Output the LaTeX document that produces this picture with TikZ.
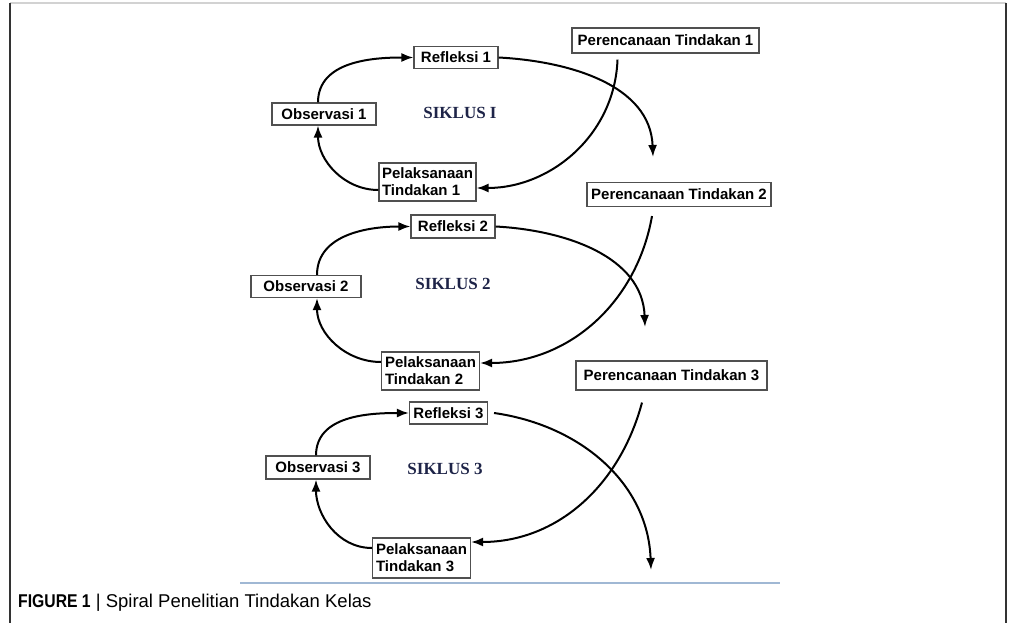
\documentclass[tikz,border=0pt]{standalone}
\usepackage{fontspec}
\setmainfont{Liberation Sans}
\newfontfamily\siklusfont{Liberation Serif}
\newfontfamily\capfont{Liberation Sans}
\newfontfamily\capboldfont[FakeStretch=0.85]{Liberation Sans}
\usetikzlibrary{arrows.meta}
\definecolor{siklusblue}{RGB}{30,36,72}
\definecolor{ruleblue}{RGB}{160,184,212}
\definecolor{boxgray}{RGB}{80,80,80}

\begin{document}
\begin{tikzpicture}[x=1pt,y=-1pt,
    box/.style={rectangle,draw=boxgray,line width=1.1pt,inner sep=0pt,font=\bfseries\fontsize{15}{17}\selectfont},
    cyclelabel/.style={font=\siklusfont\bfseries\fontsize{17}{19}\selectfont,text=siklusblue},
    flow/.style={line width=2pt,-{Latex[length=12pt,width=9pt]}}]
  \useasboundingbox (0,0) rectangle (1011,623);

  % frame
  \draw[gray!35,line width=1.2pt] (10,3) -- (1006,3);
  \draw[black!80,line width=2pt] (10,3) -- (10,623);
  \draw[black!80,line width=2.5pt] (1006,3) -- (1006,623);

  % siklus 1
  \node[box,minimum width=84,minimum height=22] (ref1) at (456,57.5) {Refleksi 1};
  \node[box,minimum width=187,minimum height=25] (per1) at (665.5,40.5) {Perencanaan Tindakan 1};
  \node[box,minimum width=104,minimum height=22] (obs1) at (324,114) {Observasi 1};
  \node[box,minimum width=97,minimum height=38,align=left] (pel1) at (427.5,182) {Pelaksanaan\\Tindakan 1};
  \node[cyclelabel] (siklus1) at (460,113) {SIKLUS I};
  \coordinate (tip1) at (653,157);

  \draw[flow] ([xshift=-6]obs1.north) to[out=90,in=180] (ref1.west);
  \draw[flow] (ref1.east) to[out=-3,in=92] (tip1);
  \draw[flow] ([xshift=-48,yshift=-6]per1.south) to[out=-92,in=0] ([yshift=-6]pel1.east);
  \draw[flow] ([yshift=-8]pel1.west) to[out=180,in=-90] ([xshift=-6]obs1.south);

  % siklus 2
  \node[box,minimum width=84,minimum height=23] (ref2) at (453,226.5) {Refleksi 2};
  \node[box,minimum width=184,minimum height=24] (per2) at (679,194.5) {Perencanaan Tindakan 2};
  \node[box,minimum width=110,minimum height=22] (obs2) at (306,286.5) {Observasi 2};
  \node[box,minimum width=98,minimum height=38,align=left] (pel2) at (430.5,371) {Pelaksanaan\\Tindakan 2};
  \node[cyclelabel] (siklus2) at (453,284) {SIKLUS 2};
  \coordinate (tip2) at (645,327);

  \draw[flow] ([xshift=11]obs2.north) to[out=90,in=180] (ref2.west);
  \draw[flow] (ref2.east) to[out=-3,in=92] (tip2);
  \draw[flow] ([xshift=-27,yshift=-9]per2.south) to[out=-100,in=0] ([yshift=8]pel2.east);
  \draw[flow] ([yshift=9]pel2.west) to[out=180,in=-90] ([xshift=11]obs2.south);

  % siklus 3
  \node[box,minimum width=78,minimum height=22] (ref3) at (448.5,413) {Refleksi 3};
  \node[box,minimum width=191,minimum height=29] (per3) at (671.5,375.5) {Perencanaan Tindakan 3};
  \node[box,minimum width=104,minimum height=23] (obs3) at (318,467.5) {Observasi 3};
  \node[box,minimum width=98,minimum height=40,align=left] (pel3) at (421.5,558) {Pelaksanaan\\Tindakan 3};
  \node[cyclelabel] (siklus3) at (445,469) {SIKLUS 3};
  \coordinate (tip3) at (651,570);

  \draw[flow] ([xshift=-2]obs3.north) to[out=90,in=180] (ref3.west);
  \draw[flow] ([xshift=6]ref3.east) to[out=-8,in=92] (tip3);
  \draw[flow] ([xshift=-29.5,yshift=-12]per3.south) to[out=-105,in=0] ([yshift=16]pel3.east);
  \draw[flow] ([yshift=10]pel3.west) to[out=180,in=-90] ([xshift=-2]obs3.south);

  % caption
  \draw[ruleblue,line width=1.8pt] (240,583) -- (780,583);
  \node[anchor=base west,inner sep=0pt,font=\capfont\fontsize{18.5}{20}\selectfont] (caption) at (18,607) {{\capboldfont\bfseries FIGURE 1} | Spiral Penelitian Tindakan Kelas};
\end{tikzpicture}
\end{document}
